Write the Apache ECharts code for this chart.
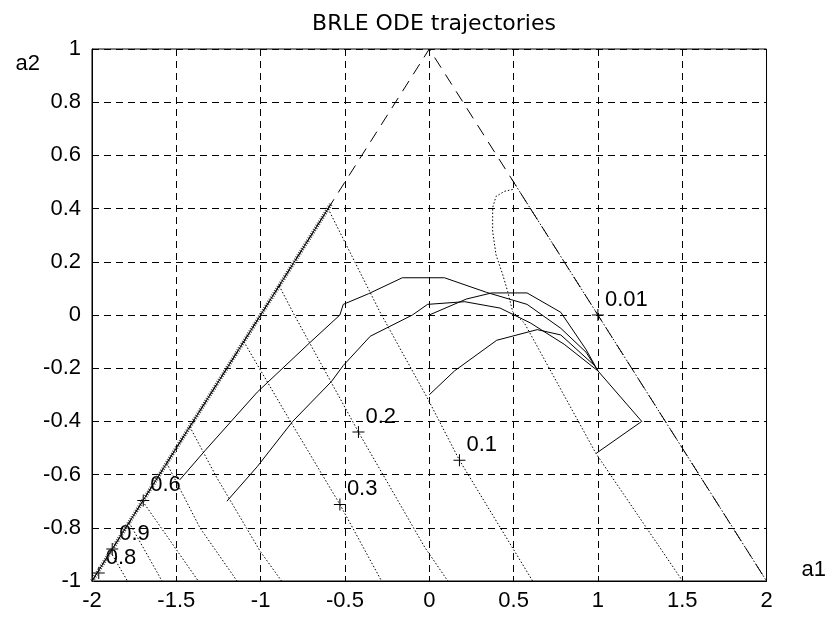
<!DOCTYPE html>
<html>
<head>
<meta charset="utf-8">
<title>BRLE ODE trajectories</title>
<script src="https://cdn.jsdelivr.net/npm/echarts@6/dist/echarts.min.js"></script>
<style>
  html, body { margin: 0; padding: 0; background: #fff; }
  #chart { width: 829px; height: 619px; }
</style>
</head>
<body>
<div id="chart"></div>
<script>
const xTicks = [-2, 2, 0.5];
const yTicks = [-1, 1, 0.2];

// stability triangle (dashed)
const triangle = [[-2, -1], [0, 1], [2, -1]];

// solid ODE trajectories
const edgeTraj = [[-2, -1], [-0.58, 0.42]];
const traj1 = [[-1.48, -0.62], [-1.33, -0.51], [-1.02, -0.29], [-0.71, -0.105], [-0.53, 0.0], [-0.51, 0.04], [-0.36, 0.08], [-0.16, 0.14], [0.0, 0.14], [0.09, 0.14], [0.34, 0.085], [0.58, 0.04], [0.78, -0.05], [0.93, -0.14], [1.0, -0.21], [1.26, -0.40], [0.99, -0.52]];
const traj2 = [[-1.20, -0.70], [-1.02, -0.57], [-0.81, -0.40], [-0.58, -0.25], [-0.51, -0.19], [-0.35, -0.08], [-0.10, 0.0], [-0.01, 0.04], [0.21, 0.05], [0.42, 0.026], [0.60, -0.03], [0.80, -0.11], [1.0, -0.21]];
const traj3 = [[0.0, 0.0], [0.22, 0.06], [0.37, 0.083], [0.58, 0.083], [0.78, 0.01], [0.93, -0.13], [1.0, -0.21]];
const traj4 = [[0.0, -0.30], [0.15, -0.21], [0.40, -0.095], [0.64, -0.055], [0.78, -0.075], [0.98, -0.19]];

// dotted curves
const dotEdge = [[0.49, 0.51], [1.0, 0.0], [2.0, -1.0]];
const dotLoop = [[0.495, 0.472], [0.446, 0.465], [0.396, 0.446], [0.376, 0.404], [0.376, 0.314], [0.396, 0.226], [0.436, 0.151], [0.465, 0.088], [0.495, 0.012], [0.564, -0.03], [0.989, -0.521], [1.502, -1.0]];
const dot1 = [[-0.6, 0.4], [-0.293, 0.012], [-0.013, -0.31], [0.179, -0.546], [0.613, -1.0]];
const dot2 = [[-0.89, 0.11], [-0.807, 0.008], [-0.42, -0.44], [-0.027, -0.873], [0.11, -1.0]];
const dot3 = [[-1.10, -0.10], [-0.827, -0.396], [-0.53, -0.712], [-0.283, -1.0]];
const dot4 = [[-1.42, -0.42], [-1.261, -0.61], [-1.004, -0.887], [-0.876, -1.0]];
const dot5 = [[-1.557, -0.557], [-1.36, -0.80], [-1.14, -1.0]];
const dot6 = [[-1.70, -0.70], [-1.37, -1.0]];
const dot7 = [[-1.78, -0.78], [-1.585, -1.0]];
const dot8 = [[-1.89, -0.89], [-1.79, -1.0]];

// labelled time marks
const markLabels = ['0.01', '0.1', '0.2', '0.3', '0.6', '0.9', '0.8'];
const markPoints = [[1.0, 0.0], [0.179, -0.546], [-0.42, -0.44], [-0.53, -0.712], [-1.696, -0.697], [-1.88, -0.88], [-1.96, -0.97]];

const font = 'Liberation Sans, Arial, sans-serif';
const plus = 'path://M5.5,0H6.5V5.5H12V6.5H6.5V12H5.5V6.5H0V5.5H5.5Z';
const dots = [1.5, 2];

function line(data, type, width, color) {
  return {
    type: 'line',
    data: data,
    showSymbol: false,
    silent: true,
    lineStyle: { color: color || '#000', width: width || 1, type: type || 'solid' }
  };
}

const chart = echarts.init(document.getElementById('chart'));

chart.setOption({
  animation: false,
  backgroundColor: '#fff',
  title: {
    text: 'BRLE ODE trajectories',
    left: 429,
    top: 8,
    textAlign: 'center',
    textStyle: { fontFamily: 'DejaVu Sans', fontSize: 22, fontWeight: 'normal', color: '#000' }
  },
  grid: {
    left: 92, right: 62, top: 49, bottom: 38,
    show: true, borderColor: '#000', borderWidth: 1
  },
  xAxis: {
    type: 'value',
    min: xTicks[0], max: xTicks[1], interval: xTicks[2],
    name: 'a1',
    nameLocation: 'end',
    nameGap: 35,
    nameTextStyle: { fontFamily: font, fontSize: 22, color: '#000', verticalAlign: 'bottom' },
    axisLine: { onZero: false, lineStyle: { color: '#000' } },
    axisTick: { inside: true, length: 5, lineStyle: { color: '#000' } },
    axisLabel: { fontFamily: font, fontSize: 22, color: '#000', margin: 9 },
    splitLine: { show: true, lineStyle: { color: '#000', type: [7, 5] } }
  },
  yAxis: {
    type: 'value',
    min: yTicks[0], max: yTicks[1], interval: yTicks[2],
    name: 'a2',
    nameLocation: 'end',
    nameGap: -15,
    nameTextStyle: { fontFamily: font, fontSize: 22, color: '#000', align: 'right', verticalAlign: 'middle', padding: [0, 52, 0, 0] },
    axisLine: { onZero: false, lineStyle: { color: '#000' } },
    axisTick: { inside: true, length: 5, lineStyle: { color: '#000' } },
    axisLabel: { fontFamily: font, fontSize: 22, color: '#000', margin: 11 },
    splitLine: { show: true, lineStyle: { color: '#000', type: [7, 5] } }
  },
  series: [
    line(triangle, [12, 8]),
    line(edgeTraj, [1, 1.5], 4, '#444'),
    line(edgeTraj, 'solid', 1),
    line(traj1), line(traj2), line(traj3), line(traj4),
    line(dotEdge, dots), line(dotLoop, dots),
    line(dot1, dots), line(dot2, dots), line(dot3, dots), line(dot4, dots),
    line(dot5, dots), line(dot6, dots), line(dot7, dots), line(dot8, dots),
    {
      type: 'scatter',
      symbol: plus,
      symbolSize: 12,
      itemStyle: { color: '#000', opacity: 1 },
      data: markPoints.map((p, i) => ({ name: markLabels[i], value: p })),
      label: {
        show: true,
        formatter: '{b}',
        position: [13, -9],
        align: 'left',
        verticalAlign: 'middle',
        fontFamily: font,
        fontSize: 22,
        color: '#000'
      }
    }
  ]
});
</script>
</body>
</html>
